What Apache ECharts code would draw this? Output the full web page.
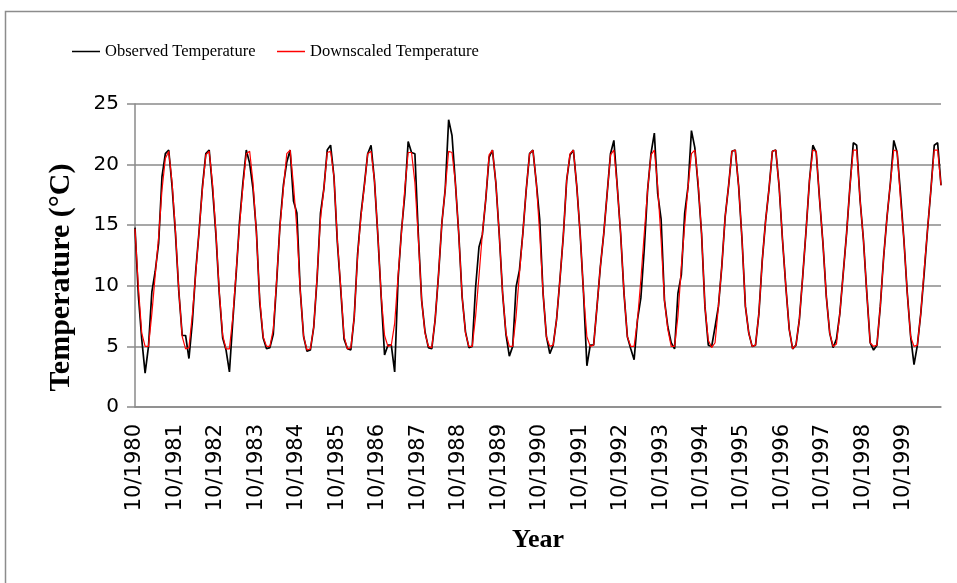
<!DOCTYPE html>
<html>
<head>
<meta charset="utf-8">
<script src="https://cdn.jsdelivr.net/npm/echarts@6/dist/echarts.min.js"></script>
<style>
html,body{margin:0;padding:0;background:#fff;}
#chart{width:957px;height:583px;}
</style>
</head>
<body>
<div id="chart"></div>
<script>
// Monthly categories Oct 1980 .. Sep 2000
const startYear = 1980;
const startMonth = 10;
const monthCount = 240;
const categories = [];
for (let i = 0; i < monthCount; i++) {
  const m = (startMonth - 1 + i) % 12 + 1;
  const y = startYear + Math.floor((startMonth - 1 + i) / 12);
  categories.push(m + '/' + y);
}

const yTicks = [0, 5, 10, 15, 20, 25];

// Observed Temperature (°C), one row per Oct..Sep year
const observed = [
  14.8, 9.2, 5.6, 2.8, 5.0, 9.5, 11.2, 13.5, 19.0, 20.9, 21.2, 18.2,
  14.3, 9.5, 5.9, 5.9, 4.0, 7.0, 11.2, 14.5, 18.2, 20.9, 21.2, 18.0,
  14.2, 9.3, 5.7, 4.7, 2.9, 7.1, 11.0, 15.3, 18.5, 21.2, 20.1, 18.0,
  14.5, 8.6, 5.7, 4.8, 4.9, 6.0, 10.3, 15.1, 18.3, 20.2, 21.2, 17.0,
  16.0, 9.6, 5.8, 4.6, 4.7, 6.6, 10.6, 16.0, 18.0, 21.2, 21.6, 19.0,
  13.6, 9.7, 5.6, 4.8, 4.7, 7.4, 12.6, 15.9, 18.3, 20.9, 21.6, 18.7,
  14.2, 9.1, 4.3, 5.1, 5.1, 2.9, 10.5, 14.5, 17.5, 21.9, 21.0, 20.9,
  14.3, 8.8, 6.2, 4.9, 4.8, 7.2, 10.9, 15.2, 18.0, 23.7, 22.4, 18.5,
  14.3, 9.1, 6.2, 4.9, 5.0, 9.9, 13.2, 14.2, 17.1, 20.6, 21.2, 18.5,
  14.3, 9.4, 6.0, 4.2, 5.0, 9.9, 11.3, 14.3, 17.9, 20.9, 21.2, 18.5,
  15.5, 9.4, 5.8, 4.4, 5.1, 7.2, 10.5, 14.1, 18.7, 20.8, 21.2, 18.2,
  14.3, 9.4, 3.4, 5.1, 5.1, 8.3, 11.6, 14.3, 17.6, 20.9, 22.0, 18.2,
  14.3, 9.4, 5.8, 4.8, 3.9, 7.2, 9.0, 13.0, 17.9, 20.9, 22.6, 17.6,
  15.5, 8.8, 6.6, 5.3, 4.8, 9.4, 10.9, 16.0, 18.2, 22.8, 21.4, 18.2,
  14.3, 8.3, 5.1, 5.0, 6.6, 8.3, 11.6, 15.7, 18.2, 21.1, 21.2, 18.2,
  13.8, 8.3, 6.1, 5.0, 5.1, 7.7, 12.1, 15.4, 18.0, 21.1, 21.2, 18.2,
  13.8, 9.9, 6.4, 4.8, 5.1, 7.2, 10.8, 14.6, 18.7, 21.6, 21.0, 17.1,
  13.5, 9.1, 6.1, 4.9, 5.6, 7.7, 11.0, 14.3, 18.2, 21.8, 21.6, 17.1,
  13.8, 9.4, 5.3, 4.7, 5.1, 8.3, 12.4, 15.7, 18.5, 22.0, 21.0, 17.6,
  13.8, 9.4, 5.8, 3.5, 5.1, 7.7, 11.0, 14.6, 17.9, 21.6, 21.8, 18.3
];

// Downscaled Temperature (°C)
const downscaled = [
  14.7, 9.9, 6.1, 5.0, 5.0, 7.7, 10.9, 14.0, 17.9, 20.5, 21.1, 18.5,
  14.5, 9.6, 5.8, 4.8, 4.9, 7.6, 11.0, 14.5, 18.0, 20.8, 21.1, 18.4,
  14.4, 9.5, 5.9, 4.8, 4.8, 7.4, 11.2, 15.0, 18.2, 20.9, 21.1, 18.5,
  14.3, 8.9, 5.8, 5.0, 5.0, 6.4, 10.5, 14.9, 18.0, 20.9, 21.2, 18.3,
  14.7, 9.6, 5.8, 4.7, 4.8, 6.6, 10.8, 15.5, 18.0, 21.0, 21.1, 19.0,
  13.8, 9.9, 5.8, 4.8, 4.9, 7.4, 12.4, 15.7, 18.2, 20.9, 21.1, 18.7,
  14.3, 9.2, 5.9, 5.0, 5.1, 6.9, 10.8, 14.3, 18.0, 21.0, 21.0, 18.5,
  14.0, 8.8, 6.1, 5.0, 4.9, 7.2, 10.9, 15.2, 18.0, 21.1, 21.0, 18.5,
  14.3, 9.1, 6.1, 5.0, 5.0, 7.5, 10.8, 14.3, 17.1, 20.8, 21.2, 18.5,
  14.3, 9.4, 6.1, 5.0, 5.0, 7.5, 11.0, 14.3, 17.9, 20.9, 21.2, 18.5,
  14.3, 9.4, 5.8, 5.0, 5.1, 7.2, 10.5, 14.1, 18.7, 20.9, 21.2, 18.2,
  14.3, 9.4, 5.8, 5.0, 5.1, 8.3, 11.6, 14.3, 17.6, 20.8, 21.2, 18.2,
  14.3, 9.4, 5.8, 5.0, 5.0, 7.2, 10.5, 14.3, 17.9, 20.8, 21.2, 18.2,
  13.8, 8.8, 6.4, 5.0, 5.0, 7.5, 11.6, 15.0, 18.2, 20.9, 21.2, 18.5,
  14.3, 8.3, 5.5, 4.9, 5.3, 8.3, 11.6, 15.7, 18.2, 21.1, 21.2, 18.2,
  13.8, 8.3, 6.1, 5.0, 5.1, 7.7, 12.1, 15.4, 18.0, 21.1, 21.2, 18.2,
  13.8, 9.9, 6.4, 4.8, 5.1, 7.2, 10.8, 14.6, 18.7, 21.2, 21.1, 17.1,
  13.5, 9.1, 6.1, 5.0, 5.2, 7.7, 11.0, 14.3, 18.2, 21.2, 21.2, 17.1,
  13.8, 9.4, 5.3, 5.0, 5.1, 8.3, 12.4, 15.7, 18.5, 21.2, 21.1, 17.1,
  13.8, 9.4, 5.8, 5.0, 5.1, 7.7, 11.3, 14.6, 17.9, 21.2, 21.2, 18.3
];

const chart = echarts.init(document.getElementById('chart'), null, {renderer: 'canvas'});
const gridColor = '#8a8a8a';
const legendText = {fontFamily: "'Liberation Serif', serif", fontSize: 16.5, color: '#000'};

chart.setOption({
  animation: false,
  backgroundColor: '#fff',
  graphic: [{
    type: 'rect',
    shape: {x: 5.5, y: 11.5, width: 960, height: 600},
    style: {fill: 'none', stroke: '#8c8c8c', lineWidth: 1.5},
    silent: true, z: -1
  }],
  legend: [{
    data: ['Observed Temperature'],
    left: 72, top: 43, padding: 0,
    icon: 'rect', itemWidth: 28, itemHeight: 1.5, itemGap: 3,
    textStyle: legendText
  }, {
    data: ['Downscaled Temperature'],
    left: 277, top: 43, padding: 0,
    icon: 'rect', itemWidth: 28, itemHeight: 1.5, itemGap: 3,
    textStyle: legendText
  }],
  grid: {left: 135, right: 16, top: 104, bottom: 176, containLabel: false},
  xAxis: {
    type: 'category',
    data: categories,
    boundaryGap: false,
    axisLine: {show: true, lineStyle: {color: gridColor, width: 1.5}},
    axisTick: {show: false},
    axisLabel: {
      interval: 11, rotate: 90, margin: 17,
      fontFamily: "'DejaVu Sans', sans-serif", fontSize: 21, color: '#000'
    },
    name: 'Year',
    nameLocation: 'middle',
    nameGap: 120,
    nameTextStyle: {fontFamily: "'Liberation Serif', serif", fontWeight: 'bold', fontSize: 26, color: '#000'}
  },
  yAxis: {
    type: 'value',
    min: yTicks[0], max: yTicks[yTicks.length - 1], interval: 5,
    axisLine: {show: true, lineStyle: {color: gridColor, width: 1.5}},
    axisTick: {show: true, length: 8, lineStyle: {color: gridColor, width: 1.5}},
    splitLine: {show: true, lineStyle: {color: gridColor, width: 1.5}},
    axisLabel: {margin: 16, fontFamily: "'DejaVu Sans', sans-serif", fontSize: 20, color: '#000'},
    name: 'Temperature (°C)',
    nameLocation: 'middle',
    nameRotate: 90,
    nameGap: 59,
    nameTextStyle: {fontFamily: "'Liberation Serif', serif", fontWeight: 'bold', fontSize: 30, color: '#000', padding: [0, 44, 0, 0]}
  },
  series: [{
    name: 'Observed Temperature',
    type: 'line',
    data: observed,
    showSymbol: false,
    symbol: 'none',
    color: '#000',
    lineStyle: {color: '#000', width: 1.7},
    z: 2
  }, {
    name: 'Downscaled Temperature',
    type: 'line',
    data: downscaled,
    showSymbol: false,
    symbol: 'none',
    color: '#ff0000',
    lineStyle: {color: '#ff0000', width: 1.2},
    z: 3
  }]
});
</script>
</body>
</html>
